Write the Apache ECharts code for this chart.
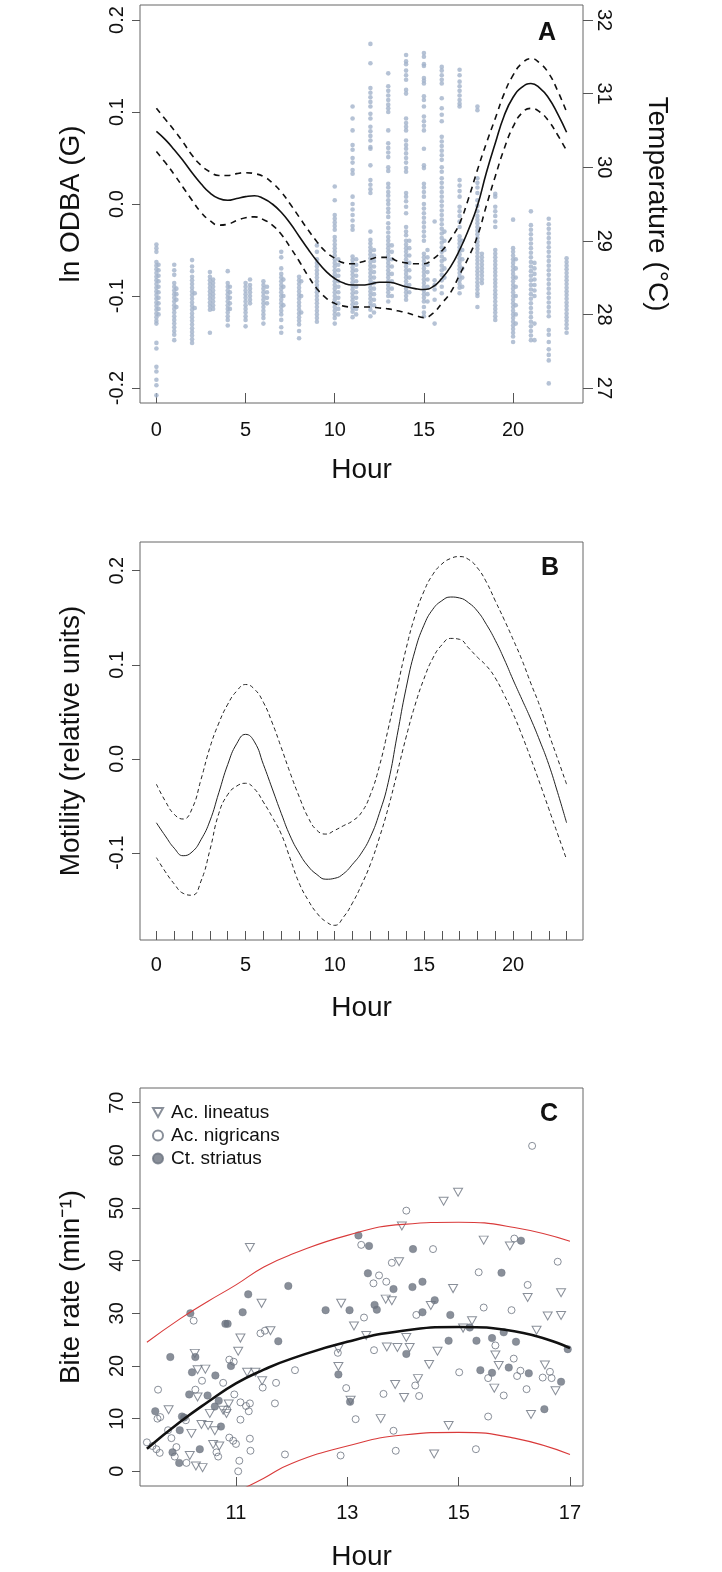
<!DOCTYPE html>
<html><head><meta charset="utf-8">
<script src="https://cdn.jsdelivr.net/npm/echarts@6/dist/echarts.min.js"></script>
<style>html,body{margin:0;padding:0;background:#fff}#c{width:722px;height:1572px}</style>
</head><body><div id="c"></div>
<script>
// ---------- Panel A: ln ODBA points (columns by hour) ----------
const odbaColHours = [0,0.12,1,1.12,2,2.15,3,3.18,4,4.12,5,5.25,6,6.2,7,7.12,8,8.12,9,10,10.2,11,11.2,12,12.2,13,13.2,14,14.18,15,15.2,15.6,16,16.15,17,17.15,18,18.25,19,20,20.15,21,21.2,22,23];
const odbaColValues = [
 [-0.044,-0.048,-0.052,-0.063,-0.067,-0.071,-0.075,-0.079,-0.083,-0.087,-0.091,-0.095,-0.099,-0.103,-0.107,-0.111,-0.115,-0.119,-0.123,-0.127,-0.130,-0.151,-0.157,-0.177,-0.182,-0.191,-0.197,-0.208],
 [-0.066,-0.072,-0.078,-0.084,-0.090,-0.096,-0.102,-0.108,-0.114,-0.120],
 [-0.066,-0.072,-0.077,-0.086,-0.090,-0.094,-0.098,-0.102,-0.106,-0.110,-0.114,-0.118,-0.122,-0.126,-0.130,-0.134,-0.138,-0.142,-0.148],
 [-0.092,-0.098,-0.104,-0.112],
 [-0.061,-0.068,-0.073,-0.079,-0.083,-0.087,-0.091,-0.095,-0.099,-0.103,-0.107,-0.111,-0.115,-0.119,-0.123,-0.127,-0.131,-0.135,-0.139,-0.143,-0.147,-0.151],
 [-0.097,-0.113],
 [-0.074,-0.079,-0.083,-0.087,-0.091,-0.095,-0.099,-0.103,-0.107,-0.111,-0.115,-0.140],
 [-0.082,-0.086,-0.090,-0.094,-0.098,-0.102,-0.106,-0.110,-0.114],
 [-0.073,-0.086,-0.090,-0.094,-0.098,-0.102,-0.106,-0.110,-0.114,-0.118,-0.122,-0.126,-0.132],
 [-0.090,-0.096,-0.102,-0.108,-0.114],
 [-0.086,-0.090,-0.094,-0.098,-0.102,-0.106,-0.110,-0.114,-0.118,-0.122,-0.126,-0.133],
 [-0.082,-0.088,-0.092,-0.096,-0.100,-0.104,-0.108],
 [-0.084,-0.088,-0.092,-0.096,-0.100,-0.104,-0.108,-0.112,-0.116,-0.120,-0.124,-0.130],
 [-0.090,-0.096,-0.102,-0.108],
 [-0.052,-0.058,-0.070,-0.076,-0.080,-0.084,-0.088,-0.092,-0.096,-0.100,-0.104,-0.108,-0.112,-0.116,-0.120,-0.126,-0.134,-0.140],
 [-0.082,-0.090,-0.100,-0.110],
 [-0.079,-0.083,-0.087,-0.091,-0.095,-0.099,-0.103,-0.107,-0.111,-0.115,-0.119,-0.123,-0.127,-0.131,-0.138,-0.146],
 [-0.084,-0.100,-0.118],
 [-0.045,-0.052,-0.060,-0.064,-0.068,-0.072,-0.076,-0.080,-0.084,-0.088,-0.092,-0.096,-0.100,-0.104,-0.108,-0.112,-0.116,-0.120,-0.124,-0.128],
 [0.019,0.004,-0.012,-0.016,-0.020,-0.024,-0.028,-0.036,-0.040,-0.044,-0.048,-0.052,-0.056,-0.060,-0.064,-0.068,-0.072,-0.076,-0.080,-0.084,-0.088,-0.092,-0.096,-0.100,-0.104,-0.108,-0.112,-0.116,-0.120,-0.124,-0.130],
 [-0.060,-0.066,-0.072,-0.078,-0.084,-0.090,-0.096,-0.102,-0.108,-0.114,-0.120],
 [0.106,0.093,0.080,0.064,0.059,0.050,0.045,0.037,0.033,0.008,0.000,-0.006,-0.012,-0.018,-0.024,-0.028,-0.057,-0.061,-0.065,-0.069,-0.073,-0.077,-0.081,-0.085,-0.089,-0.093,-0.097,-0.101,-0.105,-0.109,-0.113,-0.117,-0.123],
 [-0.060,-0.066,-0.072,-0.078,-0.084,-0.090,-0.096,-0.102,-0.108,-0.114,-0.120],
 [0.174,0.153,0.126,0.121,0.116,0.111,0.106,0.098,0.093,0.084,0.079,0.074,0.069,0.062,0.060,0.042,0.026,0.021,0.016,0.012,-0.030,-0.039,-0.043,-0.047,-0.051,-0.055,-0.059,-0.063,-0.067,-0.071,-0.075,-0.079,-0.083,-0.087,-0.091,-0.095,-0.099,-0.103,-0.107,-0.111,-0.115,-0.122],
 [-0.050,-0.056,-0.062,-0.068,-0.074,-0.080,-0.086,-0.092,-0.098,-0.104,-0.110,-0.118],
 [0.142,0.128,0.123,0.118,0.113,0.108,0.104,0.100,0.080,0.066,0.061,0.056,0.051,0.040,0.036,0.022,0.018,0.013,0.009,0.004,0.000,-0.005,-0.009,-0.014,-0.021,-0.026,-0.031,-0.036,-0.040,-0.044,-0.048,-0.052,-0.056,-0.060,-0.064,-0.068,-0.072,-0.076,-0.080,-0.084,-0.088,-0.092,-0.096,-0.100,-0.106],
 [-0.045,-0.052,-0.060,-0.068,-0.076,-0.084,-0.092,-0.100],
 [0.162,0.155,0.152,0.145,0.140,0.135,0.124,0.120,0.093,0.088,0.084,0.080,0.069,0.064,0.060,0.055,0.050,0.045,0.039,0.035,0.012,0.008,0.003,-0.003,-0.010,-0.025,-0.030,-0.034,-0.040,-0.044,-0.048,-0.052,-0.056,-0.060,-0.064,-0.068,-0.072,-0.076,-0.080,-0.084,-0.088,-0.092,-0.096,-0.100,-0.104],
 [-0.040,-0.048,-0.056,-0.064,-0.072,-0.080,-0.088,-0.096],
 [0.164,0.160,0.152,0.150,0.137,0.134,0.131,0.117,0.113,0.106,0.095,0.090,0.085,0.080,0.060,0.042,0.039,0.022,0.018,0.013,0.008,0.000,-0.005,-0.010,-0.015,-0.020,-0.025,-0.030,-0.035,-0.040,-0.054,-0.058,-0.062,-0.066,-0.070,-0.074,-0.078,-0.082,-0.086,-0.090,-0.094,-0.098,-0.102,-0.106,-0.112,-0.118,-0.122],
 [-0.050,-0.058,-0.066,-0.074,-0.082,-0.090,-0.098,-0.106],
 [-0.019,-0.083,-0.088,-0.093,-0.104,-0.130],
 [0.149,0.145,0.140,0.135,0.131,0.115,0.104,0.097,0.090,0.073,0.068,0.063,0.058,0.053,0.048,0.040,0.035,0.028,0.023,0.018,0.013,0.008,0.003,-0.002,-0.007,-0.012,-0.017,-0.022,-0.027,-0.032,-0.037,-0.042,-0.047,-0.052,-0.057,-0.062,-0.067,-0.072,-0.077,-0.083,-0.090,-0.097],
 [-0.030,-0.040,-0.050,-0.060,-0.070,-0.080],
 [0.146,0.140,0.133,0.128,0.123,0.118,0.113,0.109,0.106,0.026,0.020,0.014,0.008,-0.003,-0.008,-0.013,-0.019,-0.025,-0.035,-0.039,-0.043,-0.047,-0.051,-0.055,-0.059,-0.063,-0.067,-0.071,-0.075,-0.079,-0.083,-0.087,-0.091,-0.097],
 [-0.040,-0.050,-0.060,-0.070,-0.080,-0.090],
 [0.106,0.102,0.028,0.023,0.018,0.012,0.004,-0.002,-0.008,-0.013,-0.017,-0.021,-0.025,-0.029,-0.033,-0.037,-0.041,-0.045,-0.049,-0.053,-0.057,-0.061,-0.065,-0.069,-0.073,-0.077,-0.081,-0.085,-0.089,-0.093,-0.097,-0.100,-0.112],
 [-0.054,-0.058,-0.062,-0.066,-0.070,-0.074,-0.078,-0.082,-0.086],
 [0.011,0.008,-0.003,-0.008,-0.013,-0.019,-0.025,-0.050,-0.054,-0.058,-0.062,-0.066,-0.070,-0.074,-0.078,-0.082,-0.086,-0.090,-0.094,-0.098,-0.102,-0.106,-0.110,-0.114,-0.118,-0.122,-0.126],
 [-0.017,-0.048,-0.052,-0.056,-0.060,-0.064,-0.068,-0.072,-0.076,-0.080,-0.084,-0.088,-0.092,-0.096,-0.100,-0.104,-0.108,-0.112,-0.116,-0.120,-0.124,-0.128,-0.132,-0.136,-0.140,-0.144,-0.150],
 [-0.060,-0.070,-0.080,-0.090,-0.100,-0.110,-0.120,-0.130],
 [-0.008,-0.023,-0.028,-0.033,-0.038,-0.043,-0.048,-0.053,-0.058,-0.063,-0.068,-0.073,-0.078,-0.083,-0.088,-0.093,-0.098,-0.103,-0.108,-0.113,-0.118,-0.123,-0.128,-0.133,-0.138,-0.143,-0.148],
 [-0.064,-0.070,-0.076,-0.082,-0.088,-0.094,-0.100,-0.130,-0.148],
 [-0.016,-0.022,-0.027,-0.032,-0.037,-0.042,-0.047,-0.052,-0.057,-0.062,-0.067,-0.072,-0.077,-0.082,-0.087,-0.092,-0.097,-0.102,-0.107,-0.112,-0.117,-0.122,-0.137,-0.142,-0.150,-0.158,-0.164,-0.170,-0.195],
 [-0.059,-0.063,-0.067,-0.071,-0.075,-0.079,-0.083,-0.087,-0.091,-0.095,-0.099,-0.103,-0.107,-0.111,-0.115,-0.119,-0.123,-0.127,-0.131,-0.135,-0.140]
];
// ---------- Panel A: fitted curve and band (read every half hour) ----------
const curveHoursA = [0,0.5,1,1.5,2,2.5,3,3.5,4,4.5,5,5.5,6,6.5,7,7.5,8,8.5,9,9.5,10,10.5,11,11.5,12,12.5,13,13.5,14,14.5,15,15.5,16,16.5,17,17.5,18,18.5,19,19.5,20,20.5,21,21.5,22,22.5,23];
const odbaFit   = [0.079,0.070,0.059,0.047,0.034,0.022,0.012,0.006,0.004,0.006,0.008,0.009,0.006,0.000,-0.009,-0.021,-0.035,-0.049,-0.062,-0.073,-0.081,-0.086,-0.088,-0.088,-0.087,-0.085,-0.085,-0.087,-0.090,-0.092,-0.093,-0.090,-0.081,-0.068,-0.050,-0.028,-0.002,0.034,0.066,0.096,0.116,0.127,0.131,0.126,0.115,0.098,0.078];
const odbaUpper = [0.104,0.092,0.080,0.067,0.053,0.042,0.035,0.031,0.031,0.033,0.034,0.033,0.030,0.023,0.013,0.000,-0.014,-0.028,-0.041,-0.052,-0.059,-0.064,-0.065,-0.063,-0.060,-0.058,-0.058,-0.062,-0.064,-0.065,-0.065,-0.060,-0.051,-0.038,-0.021,0.006,0.037,0.066,0.093,0.120,0.140,0.153,0.158,0.153,0.142,0.123,0.100];
const odbaLower = [0.057,0.045,0.032,0.018,0.004,-0.009,-0.018,-0.023,-0.022,-0.018,-0.015,-0.014,-0.017,-0.023,-0.033,-0.047,-0.062,-0.078,-0.092,-0.102,-0.108,-0.111,-0.112,-0.112,-0.112,-0.113,-0.114,-0.116,-0.118,-0.121,-0.1235,-0.119,-0.108,-0.096,-0.077,-0.058,-0.035,-0.002,0.030,0.060,0.084,0.099,0.104,0.100,0.090,0.075,0.058];
// ---------- Panel B: motility (read every half hour) ----------
const curveHoursB = [0,0.5,1,1.5,2,2.5,3,3.5,4,4.5,5,5.5,6,6.5,7,7.5,8,8.5,9,9.5,10,10.5,11,11.5,12,12.5,13,13.5,14,14.5,15,15.5,16,16.5,17,17.5,18,18.5,19,19.5,20,20.5,21,21.5,22,22.5,23];
const motFit   = [-0.068,-0.082,-0.095,-0.103,-0.099,-0.086,-0.066,-0.036,-0.006,0.016,0.026,0.018,-0.006,-0.032,-0.058,-0.082,-0.100,-0.114,-0.123,-0.128,-0.127,-0.122,-0.112,-0.100,-0.083,-0.058,-0.025,0.025,0.075,0.115,0.142,0.159,0.168,0.172,0.171,0.166,0.157,0.143,0.126,0.106,0.084,0.063,0.042,0.019,-0.006,-0.036,-0.068];
const motUpper = [-0.027,-0.045,-0.059,-0.064,-0.053,-0.022,0.012,0.038,0.058,0.072,0.079,0.074,0.060,0.038,0.012,-0.015,-0.040,-0.062,-0.076,-0.080,-0.076,-0.071,-0.066,-0.057,-0.038,-0.008,0.032,0.075,0.117,0.152,0.178,0.196,0.207,0.213,0.215,0.212,0.203,0.188,0.168,0.148,0.127,0.105,0.080,0.056,0.027,0.000,-0.027];
const motLower = [-0.105,-0.120,-0.133,-0.143,-0.145,-0.130,-0.097,-0.058,-0.038,-0.029,-0.026,-0.032,-0.046,-0.062,-0.080,-0.106,-0.132,-0.150,-0.164,-0.173,-0.177,-0.168,-0.153,-0.134,-0.112,-0.084,-0.052,-0.015,0.023,0.057,0.085,0.107,0.121,0.128,0.127,0.118,0.108,0.099,0.086,0.068,0.048,0.025,0.000,-0.026,-0.053,-0.080,-0.107];
const motRugHours = [0,1,2,3,4,5,6,7,8,9,10,11,12,13,14,15,16,17,18,19,20,21,22,23];
// ---------- Panel C: bite rates ----------
const lineatus = [[11.25,42.5],[11.46,31.9],[12.89,31.9],[13.69,32.7],[13.8,32.4],[13.93,39.8],[13.98,46.6],[14.5,31.5],[14.73,51.3],[14.99,53.0],[14.9,34.7],[15.45,43.9],[15.92,42.8],[16.24,33.0],[16.84,33.9],
 [13.12,27.6],[15.08,27.2],[15.24,28.6],[16.6,29.5],[16.84,29.6],
 [11.08,25.3],[11.04,22.8],[11.2,18.8],[11.35,18.8],[11.47,17.2],[11.62,26.7],[12.84,23.3],[12.84,19.9],[13.06,13.5],[13.34,25.8],[13.71,23.6],[13.9,23.5],[14.12,23.5],[13.86,16.5],[14.06,25.4],[14.02,14.0],[14.27,17.6],[14.47,20.3],[14.62,22.8],[15.64,15.8],[15.66,22.1],[15.72,20.1],[16.4,26.8],[16.55,20.2],[16.74,15.3],[16.3,10.8],[13.6,10.0],[14.82,8.7],[14.56,3.3],
 [9.79,11.7],[10.17,3.0],[10.28,1.0],[10.4,0.7],[10.2,7.2],[10.31,19.3],[10.45,19.4],[10.26,22.4],[10.31,14.1],[10.53,11.0],[10.38,8.9],[10.5,8.7],[10.62,7.7],[10.77,11.6],[10.87,12.8],[10.59,5.1],[10.7,4.8],[10.83,11.0]];
const nigricans = [[16.32,61.8],[14.06,49.5],[13.25,43.0],[14.54,42.2],[16.0,44.2],[13.8,39.6],[16.78,39.8],[15.36,37.8],[13.57,37.2],[13.7,36.0],[13.47,35.7],[16.24,35.4],
 [10.24,28.6],[13.3,29.2],[14.24,29.7],[15.45,31.1],[15.95,30.6],[11.44,26.2],[11.52,26.7],[11.48,15.9],[11.72,16.8],[11.7,12.9],[12.06,19.2],[12.83,22.5],[12.98,15.8],[13.15,9.9],[13.48,23.0],[13.65,14.7],[14.22,16.3],[14.29,14.3],[15.01,18.8],[15.66,23.9],[15.53,17.7],[15.81,14.4],[15.99,21.4],[16.05,18.1],[16.11,19.1],[16.22,15.6],[16.51,17.8],[16.64,18.9],[16.67,17.7],[15.53,10.4],[13.83,7.7],[13.87,3.9],[12.88,3.0],[15.31,4.2],[11.88,3.2],
 [9.4,5.5],[9.6,15.5],[9.59,10.0],[9.64,10.3],[9.57,4.2],[9.63,3.5],[9.5,4.8],[9.9,2.8],[9.93,4.6],[9.78,7.8],[9.84,6.3],[10.11,1.6],[10.1,9.7],[10.27,15.5],[10.39,17.2],[10.84,11.8],[10.97,14.6],[11.08,13.1],[11.18,12.4],[11.25,12.9],[11.23,11.4],[11.08,9.8],[11.25,6.2],[11.26,3.9],[11.06,2.0],[11.04,0.0],[10.65,3.6],[10.68,2.8],[10.88,6.4],[10.95,5.8],[11.0,5.2],[10.77,16.8],[10.88,21.2],[10.96,20.8]];
const striatus = [[13.2,44.8],[13.39,42.8],[14.18,42.2],[16.12,43.8],[13.37,37.6],[15.77,37.7],[11.94,35.2],[11.22,33.6],[14.35,36.0],[14.17,35.0],[13.83,34.6],[14.57,32.5],[13.49,31.6],
 [10.18,30.0],[11.12,30.2],[12.61,30.6],[13.04,30.6],[13.53,30.7],[14.35,30.2],[14.85,29.7],[11.76,24.7],[10.91,20.0],[12.84,18.4],[13.05,13.2],[14.06,22.3],[14.82,24.8],[15.32,24.8],[15.39,19.2],[15.6,25.3],[15.6,18.7],[15.81,26.4],[16.03,24.6],[15.9,19.7],[16.26,18.6],[16.84,17.0],[16.54,11.8],[16.96,23.2],[15.2,27.3],
 [9.55,11.4],[9.82,21.7],[9.86,3.6],[9.98,1.6],[10.35,4.2],[10.03,10.4],[10.07,10.2],[9.99,7.8],[10.16,14.6],[10.21,18.8],[10.27,21.7],[10.49,14.4],[10.62,12.3],[10.69,13.4],[10.73,8.5],[10.81,28.0],[10.85,28.0],[10.63,18.2]];
const biteHours = [9.4,10,10.5,11,11.5,12,13,14,15,16,17];
const biteFit   = [4.3,9.4,13.2,16.7,19.3,21.4,24.6,26.7,27.4,26.6,23.4];
const biteUpper = [24.5,29.0,32.3,35.4,38.8,41.2,44.8,46.9,47.3,46.3,43.7];
const biteLowerHours = [11.0,11.5,12,13,14,15,16,17];
const biteLower = [-4.0,-1.3,1.5,4.8,6.9,7.4,6.3,3.2];
// tick labels
const ticksA_x = [0,5,10,15,20];
const ticksA_y = [-0.2,-0.1,0,0.1,0.2];
const ticksA_temp = [27,28,29,30,31,32];
const ticksB_x = [0,5,10,15,20];
const ticksB_y = [-0.1,0,0.1,0.2];
const ticksC_x = [11,13,15,17];
const ticksC_y = [0,10,20,30,40,50,60,70];

// ---------- build ----------
const FONT = 'Liberation Sans, Arial, Helvetica, sans-serif';
const odbaPoints = [];
odbaColHours.forEach((h, i) => odbaColValues[i].forEach(v => odbaPoints.push([h, v])));
const zipXY = (xs, ys) => xs.map((x, i) => [x, ys[i]]);

const tickStyle = {color: '#555', width: 1};
const lblStyle = {color: '#111', fontSize: 20, fontFamily: FONT};
const nameStyle = {color: '#111', fontSize: 28, fontFamily: FONT};
const GL = 140, GW = 443, GH = 398;

function xAxis(grid, min, max, tickVals, lblVals, tickLen, margin, gap) {
  return {type: 'value', gridIndex: grid, min: min, max: max,
    axisLine: {show: false, onZero: false}, splitLine: {show: false},
    axisTick: {show: true, inside: true, length: tickLen, customValues: tickVals, lineStyle: tickStyle},
    axisLabel: Object.assign({customValues: lblVals, margin: margin}, lblStyle),
    name: 'Hour', nameLocation: 'middle', nameGap: gap, nameTextStyle: nameStyle};
}
function yAxis(grid, min, max, vals, fmt, name, gap, pos) {
  const right = pos === 'right';
  return {type: 'value', gridIndex: grid, min: min, max: max, position: pos || 'left',
    axisLine: {show: false, onZero: false}, splitLine: {show: false},
    axisTick: {show: true, inside: false, length: right ? 10 : 8, customValues: vals, lineStyle: tickStyle},
    axisLabel: Object.assign({customValues: vals, margin: right ? 11 : 13, rotate: right ? -90 : 90, formatter: fmt}, lblStyle),
    name: name, nameLocation: 'middle', nameGap: gap, nameRotate: right ? -90 : 90, nameTextStyle: nameStyle};
}
const f1 = v => v.toFixed(1);
const f0 = v => String(Math.round(v));

const lineS = (xi, yi, data, width, type, color, z) => ({type: 'line', xAxisIndex: xi, yAxisIndex: yi, data: data,
  smooth: true, showSymbol: false, symbol: 'none', silent: true, z: z || 3, clip: true,
  lineStyle: {color: color || '#111', width: width, type: type || 'solid'}});

const triPath = 'path://M0,0L10,0L5,9Z';
const ptColor = '#6c7380';

const option = {
  animation: false,
  backgroundColor: '#fff',
  textStyle: {fontFamily: FONT},
  grid: [
    {left: GL, top: 5, width: GW, height: GH, show: true, borderColor: '#666', borderWidth: 1},
    {left: GL, top: 542, width: GW, height: GH, show: true, borderColor: '#666', borderWidth: 1},
    {left: GL, top: 1088, width: GW, height: GH, show: true, borderColor: '#666', borderWidth: 1}
  ],
  xAxis: [
    xAxis(0, -0.92, 23.92, ticksA_x, ticksA_x, 10, 17, 53),
    xAxis(1, -0.92, 23.92, motRugHours, ticksB_x, 9, 15, 54),
    xAxis(2, 9.276, 17.234, ticksC_x, ticksC_x, 9, 17, 57)
  ],
  yAxis: [
    yAxis(0, -0.2163, 0.2163, ticksA_y, f1, 'ln ODBA (G)', 55),
    yAxis(0, 26.796, 32.204, ticksA_temp, f0, 'Temperature (°C)', 60, 'right'),
    yAxis(1, -0.1926, 0.2305, ticksB_y, f1, 'Motility (relative units)', 55),
    yAxis(2, -2.79, 72.79, ticksC_y, f0, 'Bite rate (min⁻¹)', 55)
  ],
  legend: {
    orient: 'vertical', left: 152, top: 1103, itemWidth: 10, itemHeight: 10, itemGap: 4,
    selectedMode: false, padding: 0,
    textStyle: {fontSize: 19, color: '#111', fontFamily: FONT, padding: [0, 0, 0, 3]},
    data: ['Ac. lineatus', 'Ac. nigricans', 'Ct. striatus']
  },
  graphic: [
    {type: 'text', x: 547, y: 33, style: {text: 'A', font: 'bold 25px ' + FONT, fill: '#111', align: 'center', verticalAlign: 'middle'}},
    {type: 'text', x: 550, y: 568, style: {text: 'B', font: 'bold 25px ' + FONT, fill: '#111', align: 'center', verticalAlign: 'middle'}},
    {type: 'text', x: 549, y: 1114, style: {text: 'C', font: 'bold 25px ' + FONT, fill: '#111', align: 'center', verticalAlign: 'middle'}}
  ],
  series: [
    {type: 'scatter', xAxisIndex: 0, yAxisIndex: 0, data: odbaPoints, symbolSize: 4.6, silent: true, z: 1,
      itemStyle: {color: '#a3b3cb'}},
    lineS(0, 0, zipXY(curveHoursA, odbaFit), 1.6, 'solid'),
    lineS(0, 0, zipXY(curveHoursA, odbaUpper), 1.6, [6, 5]),
    lineS(0, 0, zipXY(curveHoursA, odbaLower), 1.6, [6, 5]),
    lineS(1, 2, zipXY(curveHoursB, motFit), 1, 'solid', '#222'),
    lineS(1, 2, zipXY(curveHoursB, motUpper), 1, [4, 3], '#222'),
    lineS(1, 2, zipXY(curveHoursB, motLower), 1, [4, 3], '#222'),
    {name: 'Ac. lineatus', type: 'scatter', xAxisIndex: 2, yAxisIndex: 3, data: lineatus, symbol: triPath, symbolSize: [9, 8],
      itemStyle: {color: 'rgba(0,0,0,0)', borderColor: ptColor, borderWidth: 1}, z: 2},
    {name: 'Ac. nigricans', type: 'scatter', xAxisIndex: 2, yAxisIndex: 3, data: nigricans, symbol: 'circle', symbolSize: 7,
      itemStyle: {color: 'rgba(0,0,0,0)', borderColor: ptColor, borderWidth: 1}, z: 2},
    {name: 'Ct. striatus', type: 'scatter', xAxisIndex: 2, yAxisIndex: 3, data: striatus, symbol: 'circle', symbolSize: 7.5,
      itemStyle: {color: ptColor, borderColor: ptColor, borderWidth: 0.5}, z: 2},
    lineS(2, 3, zipXY(biteHours, biteFit), 2.6, 'solid', '#111', 4),
    lineS(2, 3, zipXY(biteHours, biteUpper), 1.1, 'solid', '#d93a3a', 4),
    lineS(2, 3, zipXY(biteLowerHours, biteLower), 1.1, 'solid', '#d93a3a', 4)
  ]
};
const chart = echarts.init(document.getElementById('c'), null, {renderer: 'canvas'});
chart.setOption(option);
</script></body></html>
